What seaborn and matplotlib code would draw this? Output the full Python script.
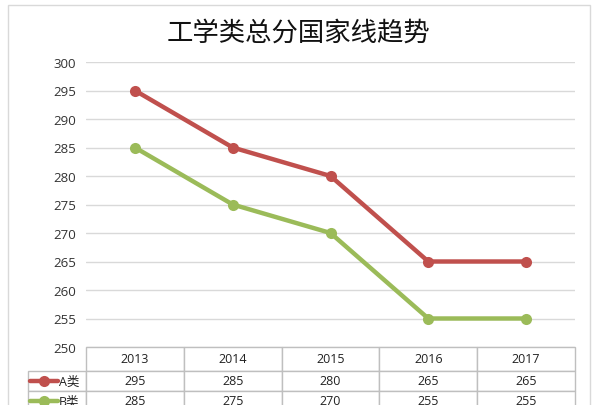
import numpy as np
import pandas as pd
import seaborn as sns
import matplotlib.pyplot as plt
from matplotlib.table import Table
from matplotlib.patches import Rectangle

# 数据
years = ["2013", "2014", "2015", "2016", "2017"]
a_scores = [295, 285, 280, 265, 265]
b_scores = [285, 275, 270, 255, 255]
series_names = ["A类", "B类"]
colors = ["#C0504D", "#9BBB59"]
y_ticks = list(range(250, 301, 5))
title = "工学类总分国家线趋势"

sns.set_style("white")
plt.rcParams['font.family'] = ['Open Sans', 'Noto Sans CJK SC', 'DejaVu Sans']

W, H = 597, 406
fig = plt.figure(figsize=(W / 100, H / 100), dpi=100)
ax = fig.add_axes([86 / W, 1 - 348 / H, 489 / W, 285 / H])

df = pd.DataFrame({
    "year": years * 2,
    "score": a_scores + b_scores,
    "series": [series_names[0]] * len(years) + [series_names[1]] * len(years),
})
sns.lineplot(data=df, x="year", y="score", hue="series", palette=colors,
             marker="o", markersize=8, markeredgewidth=0, linewidth=3.2,
             sort=False, legend=False, ax=ax)

ax.set_xlim(-0.5, len(years) - 0.5)
ax.set_ylim(250, 300)
ax.set_yticks(y_ticks)
ax.set_xticks([])
ax.set_xlabel("")
ax.set_ylabel("")
ax.yaxis.grid(True, color="#d9d9d9", lw=1)
ax.set_axisbelow(True)
ax.tick_params(axis="y", length=0, pad=7, labelsize=9.5, labelcolor="#333333")
for s in ax.spines.values():
    s.set_visible(False)

# 数据表
hdr_h, row_h = 24 / 285, 20 / 285
total_h = hdr_h + 2 * row_h
tbl = Table(ax, bbox=[0, -total_h, 1, total_h])
col_w = 1 / len(years)
lab_w = 58 / 489
for c, yr in enumerate(years):
    tbl.add_cell(0, c, col_w, hdr_h, text=yr, loc="center", facecolor="white")
for r, vals in enumerate([a_scores, b_scores], start=1):
    tbl.add_cell(r, -1, lab_w, row_h, text="", facecolor="white")
    for c, v in enumerate(vals):
        tbl.add_cell(r, c, col_w, row_h, text=str(v), loc="center", facecolor="white")
tbl.auto_set_font_size(False)
tbl.set_fontsize(9)
for cell in tbl.get_celld().values():
    cell.set_edgecolor("#bfbfbf")
    cell.set_linewidth(1)
    cell.get_text().set_color("#222222")
ax.add_table(tbl)

# 表内图例
for i, (name, col) in enumerate(zip(series_names, colors)):
    yc = -(hdr_h + row_h * (i + 0.5))
    ax.plot([-0.1145, -0.057], [yc, yc], color=col, lw=3.2, transform=ax.transAxes,
            clip_on=False, solid_capstyle="round")
    ax.plot([-0.086], [yc], "o", color=col, ms=8, mew=0, transform=ax.transAxes,
            clip_on=False)
    ax.text(-0.055, yc, name, transform=ax.transAxes, ha="left", va="center",
            fontsize=9, color="#222222")

fig.text(0.5, 1 - 33 / H, title, ha="center", va="center", fontsize=19,
         family=["Noto Sans CJK SC"], color="#111111")

fig.patches.append(Rectangle((7.5 / W, -0.1), (590 - 7.5) / W, 1 - 5.5 / H + 0.1,
                             transform=fig.transFigure, fill=False,
                             edgecolor="#d9d9d9", lw=1))

fig.savefig("out.png", dpi=100)
